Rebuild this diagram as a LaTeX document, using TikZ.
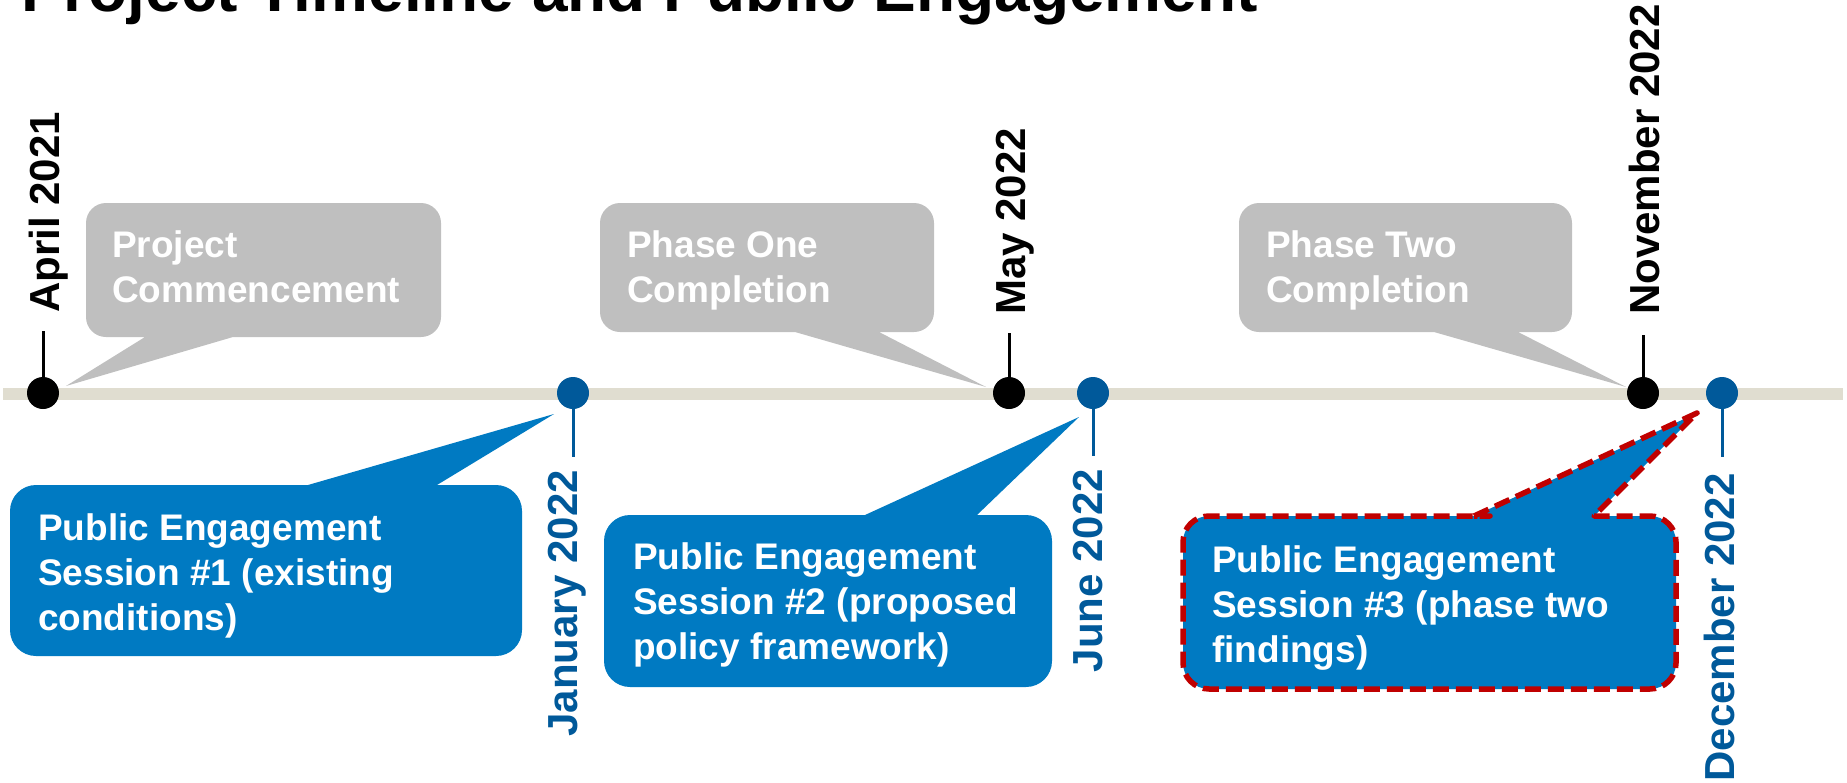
\documentclass[tikz,border=0pt]{standalone}
\usepackage{fontspec}
\setmainfont{Liberation Sans}
\definecolor{barc}{RGB}{224,221,208}
\definecolor{bubblue}{RGB}{0,122,194}
\definecolor{dotblue}{RGB}{0,89,154}
\definecolor{bubgray}{RGB}{191,191,191}
\definecolor{dashred}{RGB}{192,0,0}
\newcommand\bublines[1]{\vtop{\halign{##\hfil\cr#1\crcr}}}
\begin{document}
\begin{tikzpicture}[x=1pt,y=-1pt,
  graybub/.style={fill=bubgray},
  bluebub/.style={fill=bubblue},
  redbub/.style={fill=bubblue, draw=dashred, line width=5.5pt, dash pattern=on 16pt off 7pt, line join=round},
  bubtxt/.style={text=white, font=\bfseries\fontsize{37}{45}\selectfont, inner sep=0pt, anchor=base west},
  datelab/.style={font=\bfseries\fontsize{42}{50}\selectfont, inner sep=0pt, rotate=90},
  dotnode/.style={circle, minimum size=32pt, inner sep=0pt},
  tickline/.style={line width=3pt}]
\useasboundingbox (0,0) rectangle (1847,782);
\clip (0,0) rectangle (1847,782);

% title (clipped at top, as in the reference)
\node[font=\bfseries\fontsize{64}{77}\selectfont, anchor=base west, inner sep=0pt] (title) at (21,11) {Project Timeline and Public Engagement};

% timeline bar
\coordinate (barL) at (3,394);
\coordinate (barR) at (1843,394);
\draw[barc, line width=12pt] (barL) -- (barR);

% tail tips
\coordinate (tipA) at (66,386);
\coordinate (tipB) at (986,387);
\coordinate (tipC) at (1626,387);
\coordinate (tipD) at (554,414);
\coordinate (tipE) at (1079,417);
\coordinate (tipF) at (1697,413);

% gray callouts (above)
\path[graybub] (145,337) -- (tipA) -- (233,337) -- (243,337) [rounded corners=20pt] -- (441,337) -- (441,203) -- (86,203) -- (86,337) -- (135,337) [sharp corners] -- cycle;
\path[graybub] (795,332) -- (tipB) -- (879,332) -- (889,332) [rounded corners=20pt] -- (934,332) -- (934,203) -- (600,203) -- (600,332) -- (785,332) [sharp corners] -- cycle;
\path[graybub] (1434,332) -- (tipC) -- (1518,332) -- (1528,332) [rounded corners=20pt] -- (1572,332) -- (1572,203) -- (1239,203) -- (1239,332) -- (1424,332) [sharp corners] -- cycle;

% blue callouts (below)
\path[bluebub] (308,485) -- (tipD) -- (437,485) -- (447,485) [rounded corners=26pt] -- (522,485) -- (522,656) -- (10,656) -- (10,485) -- (298,485) [sharp corners] -- cycle;
\path[bluebub] (865,515) -- (tipE) -- (977,515) -- (987,515) [rounded corners=26pt] -- (1052,515) -- (1052,687) -- (604,687) -- (604,515) -- (855,515) [sharp corners] -- cycle;
\path[redbub] (1474,516) -- (tipF) -- (1594,516) -- (1604,516) [rounded corners=26pt] -- (1676,516) -- (1676,689) -- (1183,689) -- (1183,516) -- (1464,516) [sharp corners] -- cycle;

% callout texts
\node[bubtxt] (txA) at (112,257) {\bublines{Project\cr Commencement}};
\node[bubtxt] (txB) at (627,257) {\bublines{Phase One\cr Completion}};
\node[bubtxt] (txC) at (1266,257) {\bublines{Phase Two\cr Completion}};
\node[bubtxt] (txD) at (38,540) {\bublines{Public Engagement\cr Session \#1 (existing\cr conditions)}};
\node[bubtxt] (txE) at (633,569) {\bublines{Public Engagement\cr Session \#2 (proposed\cr policy framework)}};
\node[bubtxt] (txF) at (1212,572) {\bublines{Public Engagement\cr Session \#3 (phase two\cr findings)}};

% milestone dots
\node[dotnode, fill=black] (dApr) at (43,393) {};
\node[dotnode, fill=dotblue] (dJan) at (573,393) {};
\node[dotnode, fill=black] (dMay) at (1009,393) {};
\node[dotnode, fill=dotblue] (dJun) at (1093,393) {};
\node[dotnode, fill=black] (dNov) at (1643,393) {};
\node[dotnode, fill=dotblue] (dDec) at (1722,393) {};

% tick ends
\coordinate (kApr) at (43,331);
\coordinate (kMay) at (1009,333);
\coordinate (kNov) at (1643,335);
\coordinate (kJan) at (573,457);
\coordinate (kJun) at (1093,456);
\coordinate (kDec) at (1722,457);
\draw[tickline, black] (dApr) -- (kApr);
\draw[tickline, black] (dMay) -- (kMay);
\draw[tickline, black] (dNov) -- (kNov);
\draw[tickline, dotblue] (dJan) -- (kJan);
\draw[tickline, dotblue] (dJun) -- (kJun);
\draw[tickline, dotblue] (dDec) -- (kDec);

% date labels
\node[datelab, anchor=base west, text=black] (lApr) at (59,313) {April 2021};
\node[datelab, anchor=base west, text=black] (lMay) at (1025,315) {May 2022};
\node[datelab, anchor=base west, text=black] (lNov) at (1659,315) {November 2022};
\node[datelab, anchor=base east, text=dotblue] (lJan) at (577,470) {January 2022};
\node[datelab, anchor=base east, text=dotblue] (lJun) at (1102,469) {June 2022};
\node[datelab, anchor=base east, text=dotblue] (lDec) at (1734,473) {December 2022};
\end{tikzpicture}
\end{document}
